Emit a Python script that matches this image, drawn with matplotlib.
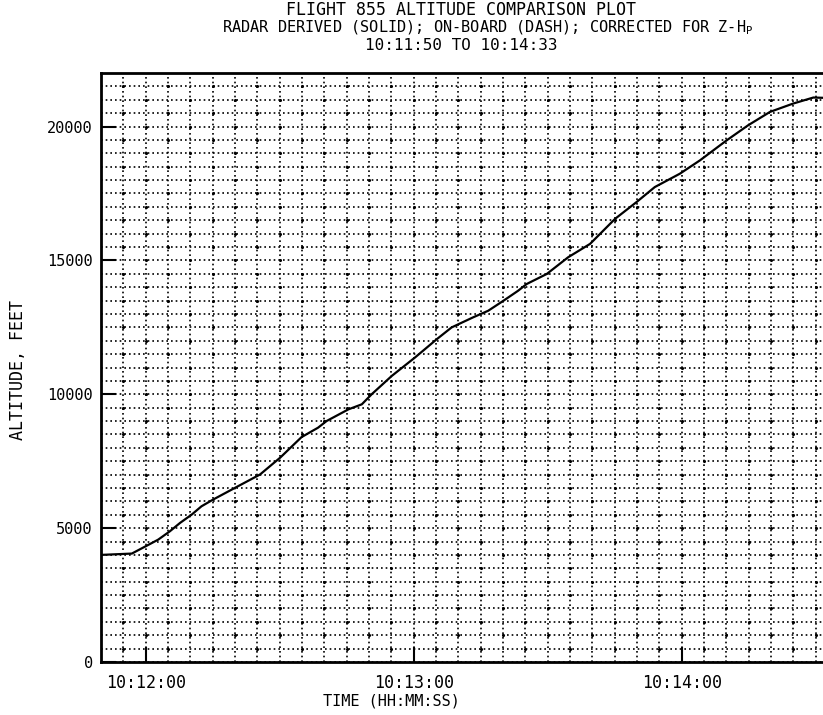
import matplotlib
matplotlib.use("Agg")
import numpy as np
import matplotlib.pyplot as plt
from matplotlib.ticker import MultipleLocator, FixedLocator

# seconds after 10:11:50 and radar derived altitude (ft)
t_sec = [0, 6.9, 10.2, 12.8, 15.4, 17.7, 20.3, 22.5, 25.1, 30.0, 35.6, 40.1,
         44.9, 48.6, 50.5, 55.4, 58.4, 60.6, 65.1, 70.3, 75.2, 78.5, 83.3,
         86.7, 90.1, 93.4, 95.3, 99.8, 104.6, 109.5, 115.1, 119.9, 124.0,
         129.6, 134.1, 140.1, 144.9, 149.8, 155.0, 159.5, 161.7]
alt_ft = [4000, 4050, 4340, 4570, 4880, 5195, 5505, 5816, 6067, 6505, 7003,
          7630, 8400, 8752, 9000, 9437, 9625, 10000, 10685, 11373, 12060,
          12497, 12872, 13120, 13493, 13868, 14118, 14493, 15118, 15617,
          16553, 17178, 17740, 18238, 18736, 19486, 20048, 20548, 20860,
          21084, 21073]

xtick_pos = [10, 70, 130]
xtick_labels = ["10:12:00", "10:13:00", "10:14:00"]
ytick_pos = [0, 5000, 10000, 15000, 20000]
ytick_labels = ["0", "5000", "10000", "15000", "20000"]

title1 = "FLIGHT 855 ALTITUDE COMPARISON PLOT"
title2 = "RADAR DERIVED (SOLID); ON-BOARD (DASH); CORRECTED FOR Z-H$_\\mathregular{P}$"
title3 = "10:11:50 TO 10:14:33"

plt.rcParams['font.family'] = 'DejaVu Sans Mono'

fig = plt.figure(figsize=(8.23, 7.15), dpi=100)
ax = fig.add_axes([101 / 823, 1 - 662 / 715, 728 / 823, 589 / 715])

ax.set_xlim(0, 163)
ax.set_ylim(0, 22000)

ax.xaxis.set_minor_locator(MultipleLocator(5))
ax.yaxis.set_minor_locator(MultipleLocator(500))
ax.xaxis.set_major_locator(FixedLocator(xtick_pos))
ax.yaxis.set_major_locator(FixedLocator(ytick_pos))
ax.set_xticklabels(xtick_labels, fontsize=12)
ax.set_yticklabels(ytick_labels, fontsize=11)

ax.grid(which="both", color="black", linestyle=(0, (1, 1.8)), lw=1.2)

# plotter grid: heavier dots on alternate intersections
gx = np.arange(5, 163, 5)
gy = np.arange(500, 22000, 500)
XX, YY = np.meshgrid(gx, gy)
mask = ((XX / 5 + YY / 500) % 2) == 0
ax.scatter(XX[mask], YY[mask], s=5, color="black", lw=0, zorder=2)

ax.plot(t_sec, alt_ft, color="black", lw=1.6, zorder=3)

ax.tick_params(which="major", direction="in", length=11, width=1.5,
               pad=6, top=False, right=False)
ax.tick_params(which="minor", length=0)
ax.tick_params(axis="x", pad=9)

for side in ["left", "bottom", "top"]:
    ax.spines[side].set_linewidth(2)
ax.spines["right"].set_visible(False)

ax.set_xlabel("TIME (HH:MM:SS)", fontsize=11)
ax.xaxis.set_label_coords((391 - 101) / 728, -(694 - 662) / 589)
ax.set_ylabel("ALTITUDE, FEET", fontsize=12)
ax.yaxis.set_label_coords(-(101 - 27) / 728, (662 - 370) / 589)

fig.text(0.56, 1 - 10 / 715, title1, ha="center", va="center", fontsize=12)
fig.text(0.593, 1 - 28 / 715, title2, ha="center", va="center", fontsize=11)
fig.text(0.56, 1 - 45 / 715, title3, ha="center", va="center", fontsize=11.5)

fig.savefig("out.png", dpi=100)
